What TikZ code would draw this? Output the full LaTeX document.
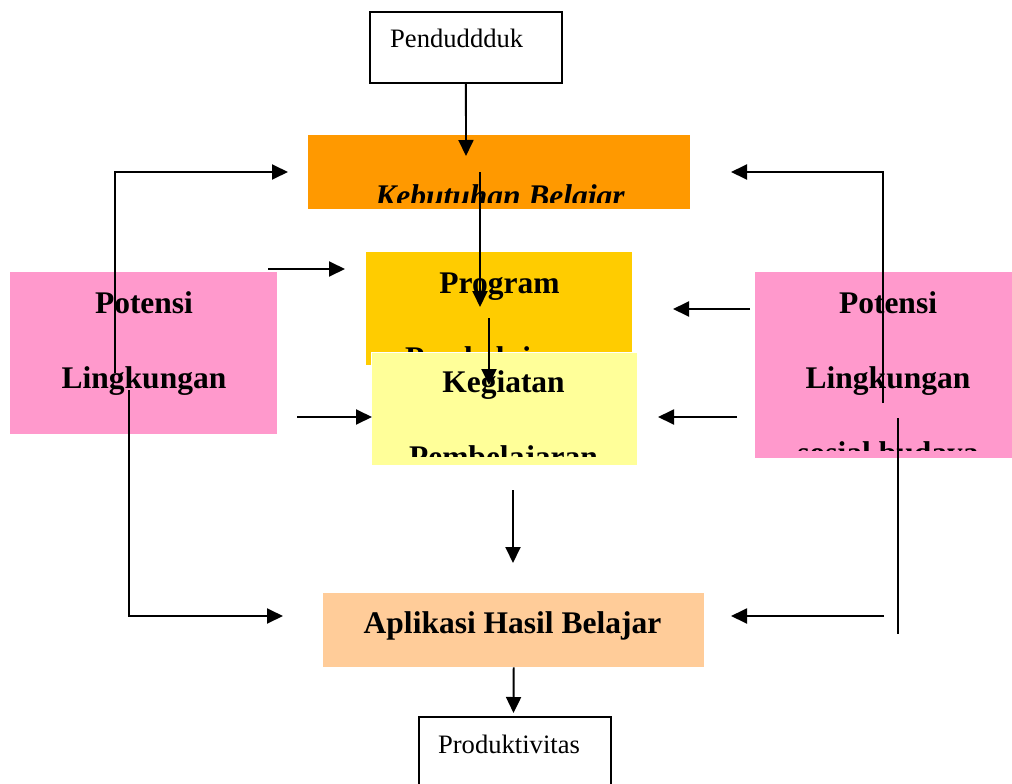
\documentclass[tikz,border=0pt]{standalone}
\usepackage{fontspec}
\setmainfont{Liberation Serif}
\usetikzlibrary{arrows.meta,positioning,calc}
\definecolor{oranye}{HTML}{FF9900}
\definecolor{kuning}{HTML}{FFCC00}
\definecolor{krem}{HTML}{FFFF99}
\definecolor{merahmuda}{HTML}{FF99CC}
\definecolor{persik}{HTML}{FFCC99}
\tikzset{
  kotak/.style={rectangle, draw=none, inner sep=0pt, anchor=north west},
  bingkai/.style={rectangle, draw, line width=1.8pt, inner sep=0pt, anchor=north west},
  tebal/.style={font=\fontsize{31.5}{38}\selectfont\bfseries, inner sep=0pt, anchor=base},
  biasa/.style={font=\fontsize{26.6}{32}\selectfont, inner sep=0pt, anchor=base},
  panah/.style={-{Triangle[length=16pt,width=15pt]}, line width=1.9pt},
  garis/.style={line width=1.9pt},
}

\begin{document}
\begin{tikzpicture}[x=1pt,y=-1pt]
\useasboundingbox (0,0) rectangle (1012,784);
\clip (0,0) rectangle (1012,784);
% kotak
\node[bingkai, minimum width=192pt, minimum height=71pt] (pend) at (369,11) {};
\node[biasa, anchor=base west] (t-pend) at (390,48) {Penduddduk};
\node[kotak, fill=merahmuda, minimum width=267pt, minimum height=162pt] (kiri) at (10,272) {};
\node[tebal] (kiri-1) at (144,313) {Potensi};
\node[tebal] (kiri-2) at (144,388) {Lingkungan};
\node[kotak, fill=merahmuda, minimum width=257pt, minimum height=186pt] (kanan) at (755,272) {};
\node[tebal] (kanan-1) at (888,313) {Potensi};
\node[tebal] (kanan-2) at (888,388) {Lingkungan};
\begin{scope}
  \clip (755,272) rectangle (1012,450);
  \node[tebal] (kanan-3) at (888,463) {sosial budaya};
\end{scope}
\node[kotak, fill=oranye, minimum width=382pt, minimum height=74pt] (butuh) at (308,135) {};
\begin{scope}
  \clip (308,135) rectangle (690,202);
  \node[tebal] (t-butuh) at (500,206) {\itshape Kebutuhan Belajar};
\end{scope}
\node[kotak, fill=kuning, minimum width=266pt, minimum height=113pt] (prog) at (366,252) {};
\begin{scope}
  \clip (prog.north west) rectangle (prog.south east);
  \node[tebal] (prog-1) at (499.5,293) {Program};
  \node[tebal] (prog-2) at (499.5,368) {Pembelajaran};
\end{scope}
\node[kotak, fill=krem, draw=white, line width=1pt, minimum width=266pt, minimum height=113pt] (giat) at (371,352) {};
\begin{scope}
  \clip (371,352) rectangle (637,456);
  \node[tebal] (giat-1) at (503.5,392) {Kegiatan};
  \node[tebal] (giat-2) at (503.5,467) {Pembelajaran};
\end{scope}
\node[kotak, fill=persik, minimum width=381pt, minimum height=74pt] (apl) at (323,593) {};
\node[tebal] (t-apl) at (512.5,633) {Aplikasi Hasil Belajar};
\node[bingkai, minimum width=192pt, minimum height=100pt] (prod) at (418,716) {};
\node[biasa] (t-prod) at (509,753) {Produktivitas};
% titik ujung
\coordinate (butuh-atas) at (466,156);
\coordinate (butuh-bawah) at (480,172);
\coordinate (prog-masuk) at (480,307);
\coordinate (prog-bawah) at (489,318);
\coordinate (giat-masuk) at (489,385);
\coordinate (giat-bawah) at (513,490);
\coordinate (apl-masuk) at (513,563);
\coordinate (prod-masuk) at (513.5,713);
\coordinate (kiri-a) at (115,373);
\coordinate (kiri-b) at (115,172);
\coordinate (butuh-kiri) at (288,172);
\coordinate (kiri-c) at (268,269);
\coordinate (prog-kiri) at (345,269);
\coordinate (kiri-d) at (297,417);
\coordinate (giat-kiri) at (372,417);
\coordinate (kiri-e) at (129,390);
\coordinate (kiri-f) at (129,616);
\coordinate (apl-kiri) at (283,616);
\coordinate (kanan-a) at (883,403);
\coordinate (kanan-b) at (883,172);
\coordinate (butuh-kanan) at (731,172);
\coordinate (kanan-c) at (750,309);
\coordinate (prog-kanan) at (673,309);
\coordinate (kanan-d) at (737,417);
\coordinate (giat-kanan) at (658,417);
\coordinate (kanan-e) at (884,616);
\coordinate (apl-kanan) at (731,616);
\coordinate (kanan-f) at (898,418);
\coordinate (kanan-g) at (898,634);
% panah
\draw[panah] (pend.south) -- (butuh-atas);
\draw[panah] (butuh-bawah) -- (prog-masuk);
\draw[panah] (prog-bawah) -- (giat-masuk);
\draw[panah] (giat-bawah) -- (apl-masuk);
\draw[panah] (apl.south) -- (prod-masuk);
\draw[panah] (kiri-a) -- (kiri-b) -- (butuh-kiri);
\draw[panah] (kiri-c) -- (prog-kiri);
\draw[panah] (kiri-d) -- (giat-kiri);
\draw[panah] (kiri-e) -- (kiri-f) -- (apl-kiri);
\draw[panah] (kanan-a) -- (kanan-b) -- (butuh-kanan);
\draw[panah] (kanan-c) -- (prog-kanan);
\draw[panah] (kanan-d) -- (giat-kanan);
\draw[panah] (kanan-e) -- (apl-kanan);
\draw[garis] (kanan-f) -- (kanan-g);
\end{tikzpicture}
\end{document}
